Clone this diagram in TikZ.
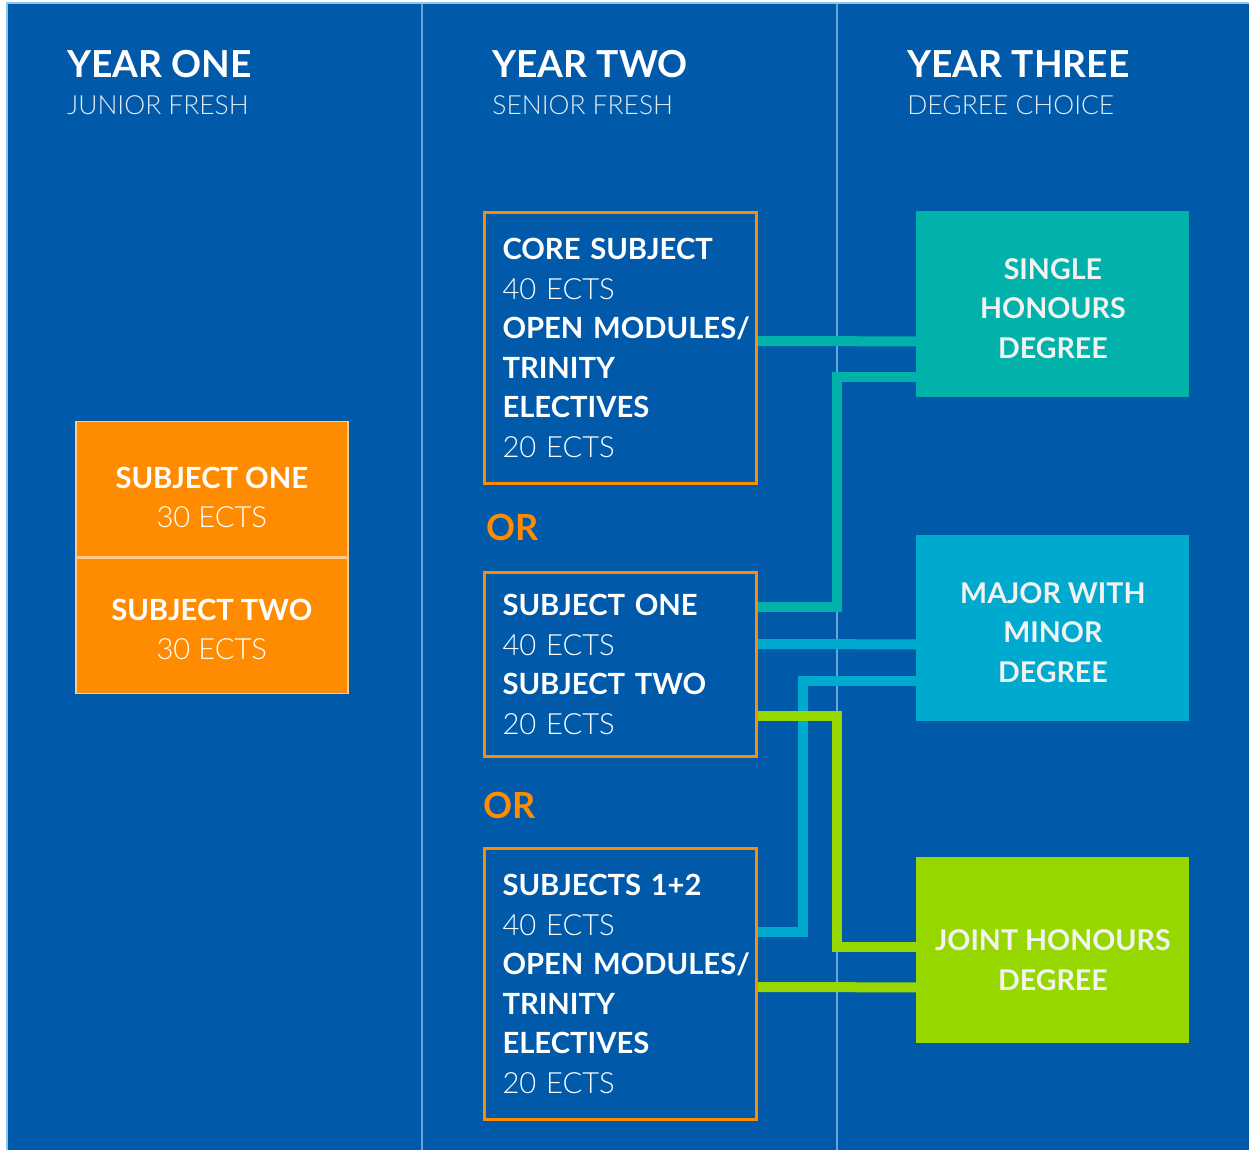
\documentclass[tikz,border=0pt]{standalone}
\usepackage{fontspec}
\setmainfont{Lato}
\newfontfamily\lightface{Lato Light}
\usepackage{tikz}
\usetikzlibrary{positioning, calc}
\definecolor{bgBlue}{RGB}{0, 90, 169}
\definecolor{ruleBlue}{RGB}{100, 168, 218}
\definecolor{edgeBlue}{RGB}{140, 200, 235}
\definecolor{boxOrange}{RGB}{255, 140, 0}
\definecolor{honoursTeal}{RGB}{0, 178, 169}
\definecolor{minorCyan}{RGB}{0, 169, 206}
\definecolor{jointLime}{RGB}{151, 215, 0}

\begin{document}
\begin{tikzpicture}[x=0.5pt, y=-0.5pt,
        yeartitle/.style={anchor=base west, inner sep=0, text=white, font=\bfseries\fontsize{18.6}{22}\selectfont},
        yearsub/.style={anchor=base west, inner sep=0, text=white!88!bgBlue, font=\lightface\fontsize{13.2}{16}\selectfont},
        firstyear/.style={fill=boxOrange, draw=white!55!boxOrange, line width=0.75pt,
            minimum width=136pt, minimum height=67.5pt},
        firsttext/.style={text=white, align=center, inner sep=0, font=\fontsize{14.6}{19.5}\selectfont},
        pathbox/.style={draw=boxOrange, line width=1.5pt, text=white, align=left, text width=118pt,
            inner xsep=9pt, font=\fontsize{14.6}{19.75}\selectfont},
        orword/.style={anchor=base west, inner sep=0, text=boxOrange, font=\bfseries\fontsize{18}{20}\selectfont},
        degree/.style={fill=#1, minimum width=136.5pt, minimum height=93pt},
        degreetext/.style={text=white!95!black, align=center, inner sep=0, font=\bfseries\fontsize{14.3}{19.75}\selectfont},
        conn/.style={draw=#1, line width=5pt}
    ]
        \useasboundingbox (0,0) rectangle (1249,1150);
        \fill[bgBlue] (7,3) rectangle (1249,1150);
        \draw[edgeBlue, line width=1pt] (7,1150) -- (7,3) -- (1249,3);
        \draw[ruleBlue, line width=1pt] (422,4) -- (422,1150);
        \draw[ruleBlue, line width=1pt] (837,4) -- (837,1150);

        \node[yeartitle] (y1) at (67,78) {YEAR ONE};
        \node[yearsub] (s1) at (67,115) {JUNIOR FRESH};
        \node[yeartitle] (y2) at (492,78) {YEAR TWO};
        \node[yearsub] (s2) at (492,115) {SENIOR FRESH};
        \node[yeartitle] (y3) at (907,78) {YEAR THREE};
        \node[yearsub] (s3) at (907,115) {DEGREE CHOICE};

        \node[firstyear, anchor=north west] (subjone) at (75,421) {};
        \node[firstyear, below=0pt of subjone] (subjtwo) {};
        \node[firsttext] (subjonetxt) at ($(subjone.center)+(0,8)$) {\textbf{SUBJECT ONE}\\{\lightface 30 ECTS}};
        \node[firsttext] (subjtwotxt) at ($(subjtwo.center)+(0,4)$) {\textbf{SUBJECT TWO}\\{\lightface 30 ECTS}};

        \node[pathbox, minimum height=135.5pt, anchor=north west] (core) at (483,211)
            {\textbf{CORE SUBJECT}\\{\lightface 40 ECTS}\\\mbox{\textbf{OPEN MODULES/}}\\\textbf{TRINITY}\\\textbf{ELECTIVES}\\{\lightface 20 ECTS}};
        \node[orword] (or1) at (486,540) {OR};
        \node[pathbox, minimum height=92pt, anchor=north west] (pair) at (483,571)
            {\textbf{SUBJECT ONE}\\{\lightface 40 ECTS}\\\textbf{SUBJECT TWO}\\{\lightface 20 ECTS}};
        \node[orword] (or2) at (483,818) {OR};
        \node[pathbox, minimum height=135.5pt, anchor=north west] (trio) at (483,847)
            {\textbf{SUBJECTS 1+2}\\{\lightface 40 ECTS}\\\mbox{\textbf{OPEN MODULES/}}\\\textbf{TRINITY}\\\textbf{ELECTIVES}\\{\lightface 20 ECTS}};

        \node[degree=honoursTeal, anchor=north west] (single) at (916,211) {};
        \node[degree=minorCyan, anchor=north west] (major) at (916,535) {};
        \node[degree=jointLime, anchor=north west] (joint) at (916,857) {};
        \node[degreetext] (singletxt) at ($(single.center)+(0,4)$) {SINGLE\\HONOURS\\DEGREE};
        \node[degreetext] (majortxt) at ($(major.center)+(0,4)$) {MAJOR WITH\\MINOR\\DEGREE};
        \node[degreetext] (jointtxt) at ($(joint.center)+(0,10)$) {JOINT HONOURS\\DEGREE};

        \draw[conn=honoursTeal] ($(core.east)+(0,-7)$) -- ($(single.west)+(0,37)$);
        \draw[conn=honoursTeal] ($(pair.east)+(0,-58)$) -| ($(single.west)+(-79,73)$) -- ($(single.west)+(0,73)$);
        \draw[conn=minorCyan] ($(pair.east)+(0,-20.5)$) -- ($(major.west)+(0,16)$);
        \draw[conn=minorCyan] ($(trio.east)+(0,-52)$) -| ($(major.west)+(-113,53)$) -- ($(major.west)+(0,53)$);
        \draw[conn=jointLime] ($(pair.east)+(0,51.5)$) -| ($(joint.west)+(-79,-3)$) -- ($(joint.west)+(0,-3)$);
        \draw[conn=jointLime] ($(trio.east)+(0,3)$) -- ($(joint.west)+(0,37)$);
    \end{tikzpicture}
\end{document}
